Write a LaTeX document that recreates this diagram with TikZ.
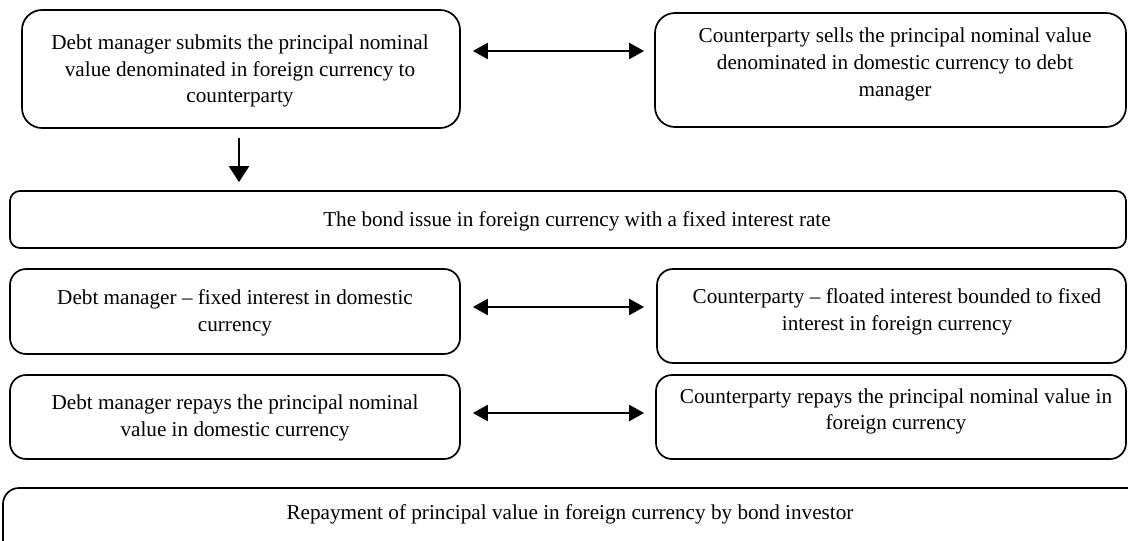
\documentclass[tikz,border=0pt]{standalone}
\usepackage{fontspec}
\setmainfont{Liberation Serif}
\usetikzlibrary{arrows.meta}
\begin{document}
\begin{tikzpicture}[x=1pt,y=-1pt,
  box/.style={draw, line width=1.7pt, rounded corners=#1, inner sep=0pt},
  box/.default=16pt,
  txt/.style={align=center, inner sep=0pt, font=\fontsize{21.2}{26.7}\selectfont},
  dbl/.style={line width=2.2pt, {Triangle[length=15pt,width=16pt]}-{Triangle[length=15pt,width=16pt]}},
  down/.style={line width=2.2pt, -{Triangle[length=16pt,width=20pt]}}]
\useasboundingbox (0,0) rectangle (1128,541);
\clip (0,0) rectangle (1128,541);
% boxes
\node[box=20pt, minimum width=438pt, minimum height=118pt] (b1) at (241,69) {};
\node[box=20pt, minimum width=471pt, minimum height=114pt] (b2) at (890.5,70) {};
\node[box=10pt, minimum width=1116pt, minimum height=57pt] (b3) at (568,219.5) {};
\node[box, minimum width=450pt, minimum height=85pt] (b4) at (235,311.5) {};
\node[box, minimum width=469pt, minimum height=94pt] (b5) at (891.5,316) {};
\node[box, minimum width=450pt, minimum height=84pt] (b6) at (235,417) {};
\node[box, minimum width=470pt, minimum height=84pt] (b7) at (891,417) {};
\node[box, minimum width=1140pt, minimum height=80pt] (b8) at (573,528) {};
% texts
\node[txt] (t1) at (240,71) {Debt manager submits the principal nominal\\value denominated in foreign currency to\\counterparty};
\node[txt] (t2) at (895,64.5) {Counterparty sells the principal nominal value\\denominated in domestic currency to debt\\manager};
\node[txt] (t3) at (577,221) {The bond issue in foreign currency with a fixed interest rate};
\node[txt] (t4) at (235,312.5) {Debt manager -- fixed interest in domestic\\currency};
\node[txt] (t5) at (897,311.5) {Counterparty -- floated interest bounded to fixed\\interest in foreign currency};
\node[txt] (t6) at (235,418) {Debt manager repays the principal nominal\\value in domestic currency};
\node[txt] (t7) at (896,411.5) {Counterparty repays the principal nominal value in\\foreign currency};
\node[txt] (t8) at (570,514) {Repayment of principal value in foreign currency by bond investor};
% connectors
\draw[dbl] ([xshift=12pt,yshift=18pt]b1.east) -- ([xshift=-10pt,yshift=19pt]b2.west);
\draw[down] ([xshift=-2pt,yshift=-9pt]b1.south) -- ([xshift=-2pt,yshift=8pt]b1.south |- b3.north);
\draw[dbl] ([xshift=12pt,yshift=4.5pt]b4.east) -- ([xshift=-12pt,yshift=9pt]b5.west);
\draw[dbl] ([xshift=12pt,yshift=4pt]b6.east) -- ([xshift=-11pt,yshift=4pt]b7.west);
\end{tikzpicture}
\end{document}
